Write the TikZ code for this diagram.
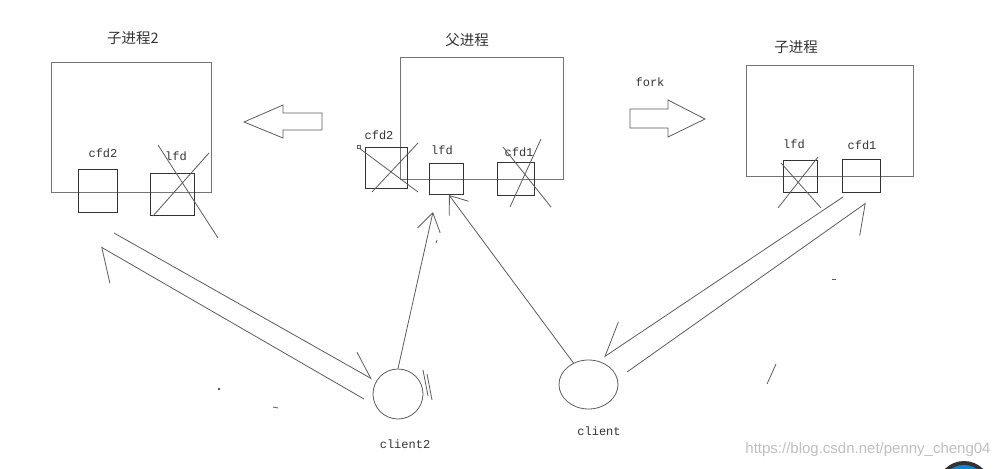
\documentclass[tikz,border=0pt]{standalone}
\usepackage{fontspec}
\setmonofont{Liberation Mono}
\newfontfamily\cjkfont{Noto Sans CJK SC}
\newfontfamily\urlfont{Liberation Sans}
\usetikzlibrary{arrows.meta, positioning, shapes.geometric, calc}

\definecolor{pen}{HTML}{5C5C5C}
\definecolor{ink}{HTML}{333333}

\begin{document}
\begin{tikzpicture}[
    x=1pt, y=-1pt,
    pen/.style={draw=pen, line width=0.8pt},
    proc/.style={rectangle, draw=pen!85, line width=0.9pt, inner sep=0pt},
    fdbox/.style={rectangle, draw=ink, line width=0.9pt, inner sep=0pt},
    fdlabel/.style={font=\ttfamily\fontsize{12}{12}\selectfont, text=ink, inner sep=0pt},
    title/.style={font=\cjkfont\fontsize{14.5}{14.5}\selectfont, text=ink, inner sep=0pt},
    clientnode/.style={ellipse, draw=pen, line width=0.8pt, inner sep=0pt},
    barb/.style={-{Straight Barb[length=#1]}},
]
    \useasboundingbox (0,0) rectangle (1008,468);

    % Process boxes
    \node[proc, minimum width=160pt, minimum height=130pt] (child2) at (131,127) {};
    \node[proc, minimum width=163pt, minimum height=122pt] (parent) at (481.5,118) {};
    \node[proc, minimum width=167pt, minimum height=111pt] (child) at (829.5,120.5) {};

    \node[title] (child2title) at (133,38) {子进程2};
    \node[title] (parenttitle) at (467,40) {父进程};
    \node[title] (childtitle) at (796,47) {子进程};

    % fd boxes
    \node[fdbox, minimum width=39pt, minimum height=43pt] (c2cfd2) at (97.5,190.5) {};
    \node[fdbox, minimum width=44pt, minimum height=42pt] (c2lfd) at (172,194) {};
    \node[fdbox, minimum width=42pt, minimum height=41pt] (pcfd2) at (386,167.5) {};
    \node[fdbox, minimum width=34pt, minimum height=31pt] (plfd) at (446,178.5) {};
    \node[fdbox, minimum width=37pt, minimum height=33pt] (pcfd1) at (515.5,178.5) {};
    \node[fdbox, minimum width=34pt, minimum height=32pt] (clfd) at (800,176) {};
    \node[fdbox, minimum width=38pt, minimum height=33pt] (ccfd1) at (861,175.5) {};

    \node[fdlabel] at (103,153) {cfd2};
    \node[fdlabel] at (176,156) {lfd};
    \node[fdlabel] at (379,135) {cfd2};
    \node[fdlabel] at (442,150) {lfd};
    \node[fdlabel] at (519,152) {cfd1};
    \node[fdlabel] at (794,144) {lfd};
    \node[fdlabel] at (862,145) {cfd1};

    % crossed out fds
    \draw[pen] (158,145) -- (218,238);
    \draw[pen] (153,216) -- (209,153);
    \draw[pen] (359,148) -- (418,192);
    \draw[pen] (372,192) -- (418,143);
    \draw[pen, line width=0.6pt] (357.5,145.5) rectangle (360.5,148.5);
    \draw[pen] (503,147) -- (551,207);
    \draw[pen] (510,207) -- (541,139);
    \draw[pen] (781,163) -- (821,208);
    \draw[pen] (778,208) -- (818,157);

    % fork arrows
    \draw[pen] (244,122) -- (283,105) -- (283,113) -- (322,113) -- (322,130)
        -- (283,130) -- (283,138) -- cycle;
    \draw[pen] (630,109) -- (668,109) -- (668,100) -- (705,119) -- (668,137)
        -- (668,128) -- (630,128) -- cycle;
    \node[fdlabel] (forklabel) at (650,82) {fork};

    % clients
    \node[clientnode, minimum width=50pt, minimum height=50pt] (client2) at (398,394) {};
    \node[clientnode, minimum width=59pt, minimum height=49pt] (client) at (588.5,384.5) {};
    \node[fdlabel] (client2label) at (405,444) {client2};
    \node[fdlabel] (clientlabel) at (599,431) {client};

    % connection ends
    \coordinate (lfdtip2) at (433,212);
    \coordinate (lfdtip1) at (449,195);
    \coordinate (a1) at (114,233);
    \coordinate (a2) at (372,379);
    \coordinate (b1) at (364,399);
    \coordinate (b2) at (101,247);
    \coordinate (c1) at (843,197);
    \coordinate (c2) at (604,357);
    \coordinate (d1) at (627,372);
    \coordinate (d2) at (866,203);

    % connections
    \draw[pen, -{Straight Barb[length=18pt, width=23pt]}] (client2.north) -- (lfdtip2);
    \draw[pen, -{Straight Barb[length=16pt, width=24pt]}] (client.125) -- (lfdtip1);
    \draw[pen, -{Straight Barb[harpoon, length=25pt, width=32pt]}] (a1) -- (a2);
    \draw[pen, -{Straight Barb[harpoon, length=25pt, width=54pt]}] (b1) -- (b2);
    \draw[pen, -{Straight Barb[harpoon, swap, length=30pt, width=42pt]}] (c1) -- (c2);
    \draw[pen, -{Straight Barb[harpoon, swap, length=23pt, width=46pt]}] (d1) -- (d2);

    % stray marks
    \draw[pen] (423,370) -- (428,396);
    \draw[pen] (427,374) -- (432,400);
    \draw[pen] (776,364) -- (767,384);
    \draw[pen] (832,279) -- (836,279);
    \draw[pen] (273,407) -- (278,408);
    \draw[pen] (437,240) -- (436,243);
    \fill[pen] (219,389) circle (0.8);

    % watermark
    \node[font=\urlfont\fontsize{15}{15}\selectfont, text=black!25, inner sep=0pt]
        (mark) at (868,450) {https://blog.csdn.net/penny\_cheng04};
    \fill[black!80] (964,488) circle (27);
    \fill[cyan!70!blue] (964,488) circle (23);

\end{tikzpicture}
\end{document}
